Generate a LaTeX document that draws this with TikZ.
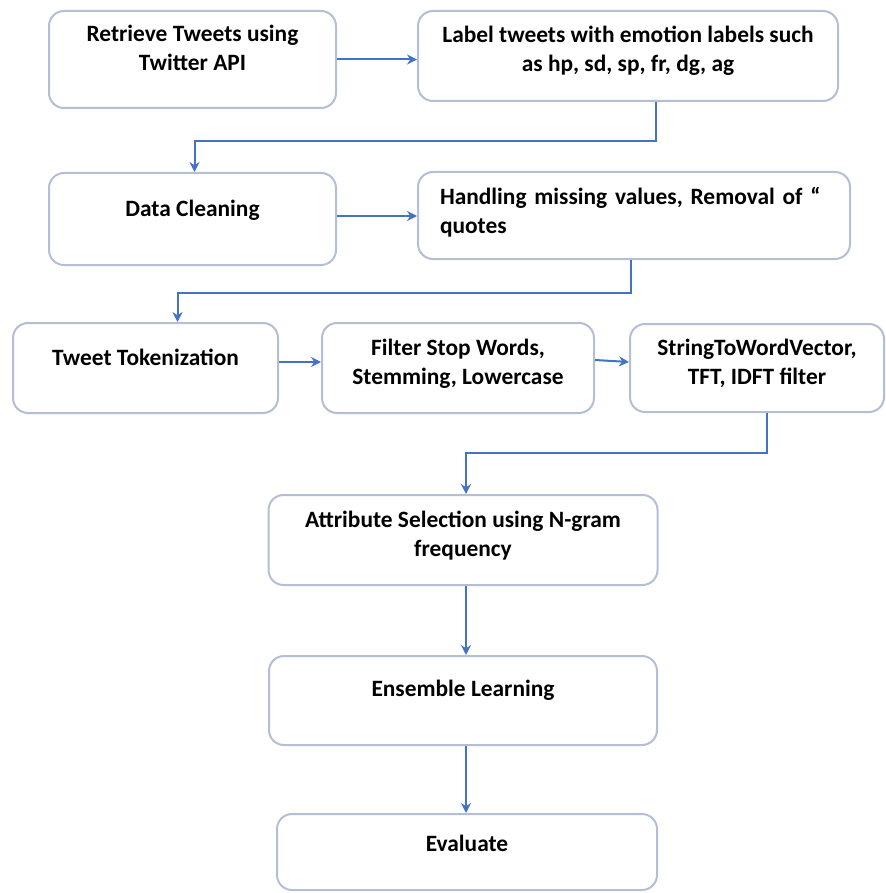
\documentclass[tikz,border=0pt]{standalone}
\usepackage{fontspec}
\setmainfont{Carlito}
\usetikzlibrary{arrows.meta}

\definecolor{flowblue}{RGB}{68,114,196}
\definecolor{boxgray}{RGB}{180,190,212}

\tikzset{
  stage/.style={draw=boxgray, line width=1pt, rounded corners=7.5pt, fill=white,
    font=\bfseries\fontsize{11.7}{14.5}\selectfont, align=center, inner sep=3pt},
  flow/.style={draw=flowblue, line width=1pt, -{Stealth[length=5pt,width=5pt]}}
}

\begin{document}
\begin{tikzpicture}[x=0.5pt,y=-0.5pt]
				\useasboundingbox (0,0) rectangle (886,893);
				\node[stage, minimum width=143.5pt, minimum height=48.5pt, text depth=12pt] (retrieve) at (192.5,59.5) {Retrieve Tweets using\\Twitter API};
				\node[stage, minimum width=210pt, minimum height=45pt, text depth=7.4pt] (label) at (628,56) {Label tweets with emotion labels such\\as hp, sd, sp, fr, dg, ag};
				\node[stage, minimum width=143.5pt, minimum height=46pt, text depth=10.4pt] (clean) at (192.5,219) {Data Cleaning};
				\node[stage, minimum width=216pt, minimum height=43.5pt, text depth=19.4pt, text width=194pt, align=left, inner xsep=11pt] (missing) at (634,215.5) {Handling missing values, Removal of “\\quotes};
				\node[stage, minimum width=132.5pt, minimum height=45pt, text depth=10.4pt] (token) at (145.5,368) {Tweet Tokenization};
				\node[stage, minimum width=136pt, minimum height=45pt, text depth=5.9pt] (filter) at (458,368) {Filter Stop Words,\\Stemming, Lowercase};
				\node[stage, minimum width=127pt, minimum height=44pt, text depth=6.4pt] (vector) at (757,368) {StringToWordVector,\\TFT, IDFT filter};
				\node[stage, minimum width=194.5pt, minimum height=45pt, text depth=6.4pt] (select) at (463,540) {Attribute Selection using N-gram\\frequency};
				\node[stage, minimum width=194pt, minimum height=44.5pt, text depth=11.9pt] (ensemble) at (463,700.5) {Ensemble Learning};
				\node[stage, minimum width=190pt, minimum height=38pt, text depth=8.4pt] (evaluate) at (467,852) {Evaluate};

				\draw[flow] (retrieve.east) -- (retrieve.east -| label.west);
				\draw[flow] ([xshift=14pt]label.south) -- ++(0,39) -| ([xshift=1pt]clean.north);
				\draw[flow] ([yshift=1.5pt]clean.east) -- ([yshift=1.5pt]clean.east -| missing.west);
				\draw[flow] ([xshift=-1.5pt]missing.south) -- ++(0,33) -| ([xshift=16pt]token.north);
				\draw[flow] ([yshift=3pt]token.east) -- ([yshift=3pt]token.east -| filter.west);
				\draw[flow] ([yshift=4pt]filter.east) -- ([yshift=3pt]vector.west);
				\draw[flow] ([xshift=5pt]vector.south) -- ++(0,40) -| ([xshift=1.5pt]select.north);
				\draw[flow] ([xshift=1.5pt]select.south) -- ([xshift=1.5pt]ensemble.north);
				\draw[flow] ([xshift=1.5pt]ensemble.south) -- ([xshift=-0.5pt]evaluate.north);
			\end{tikzpicture}
\end{document}
